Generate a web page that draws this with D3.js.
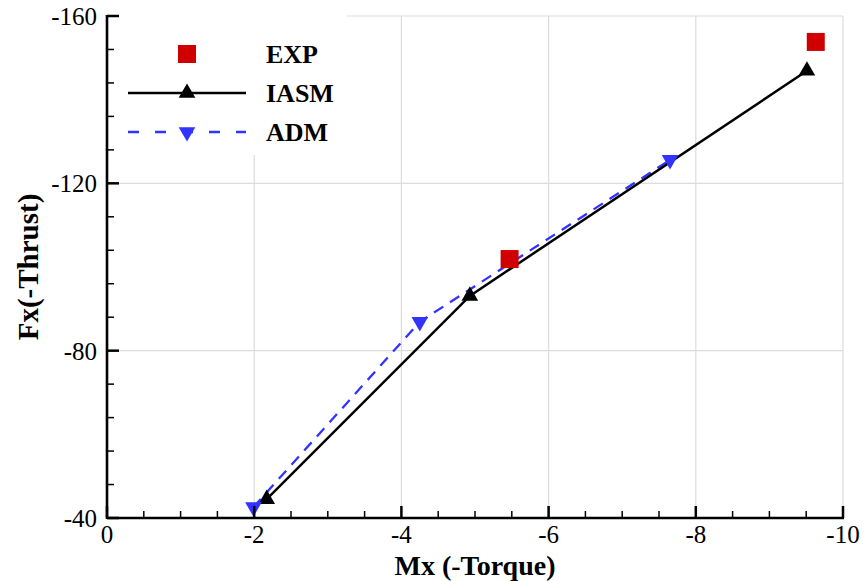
<!DOCTYPE html>
<html><head><meta charset="utf-8">
<script src="https://cdn.jsdelivr.net/npm/d3@7"></script>
<style>
body{margin:0;background:#fff;}
text{font-family:"Liberation Serif","Times New Roman","DejaVu Serif",serif;}
</style></head>
<body><svg id="c" width="864" height="581"></svg>
<script>
const expX = [-5.47, -9.63];
const expY = [-101.9, -153.8];
const iasmX = [-2.17, -4.93, -9.51];
const iasmY = [-44.5, -93.1, -146.9];
const admX = [-1.99, -4.25, -7.65];
const admY = [-42.6, -86.9, -125.6];
const xMajor = [0, -2, -4, -6, -8, -10];
const yMajor = [-40, -80, -120, -160];
const seriesNames = ["EXP", "IASM", "ADM"];

const FONT = "Liberation Serif, Times New Roman, DejaVu Serif, serif";
const svg = d3.select("#c");
const x = d3.scaleLinear().domain([0, -10]).range([107, 843]);
const y = d3.scaleLinear().domain([-40, -160]).range([518, 16]);

// gridlines
const g = svg.append("g");
g.selectAll("line.vx").data(xMajor.slice(1)).enter().append("line")
 .attr("x1", d => x(d)).attr("x2", d => x(d)).attr("y1", y(-40)).attr("y2", y(-160))
 .attr("stroke", "#dcdcdc").attr("stroke-width", 1.2);
g.selectAll("line.hy").data(yMajor.slice(1)).enter().append("line")
 .attr("y1", d => y(d)).attr("y2", d => y(d)).attr("x1", x(0)).attr("x2", x(-10))
 .attr("stroke", "#dcdcdc").attr("stroke-width", 1.2);

// legend background
svg.append("rect").attr("x", x(0)).attr("y", y(-160) - 2).attr("width", 240).attr("height", 141).attr("fill", "#fff");

// lines
const line = d3.line().x(d => x(d[0])).y(d => y(d[1]));
const iasm = iasmX.map((v, i) => [v, iasmY[i]]);
const adm = admX.map((v, i) => [v, admY[i]]);
const exp = expX.map((v, i) => [v, expY[i]]);

svg.append("path").attr("d", line(adm)).attr("fill", "none").attr("stroke", "#3333ff")
 .attr("stroke-width", 2.3).attr("stroke-dasharray", "11,8");
svg.append("path").attr("d", line(iasm)).attr("fill", "none").attr("stroke", "#000")
 .attr("stroke-width", 2.5);

const triUp = d3.symbol().type(d3.symbolTriangle).size(120);
function tri(sel, up, color) {
  sel.append("path").attr("d", triUp()).attr("fill", color)
   .attr("transform", d => `translate(${d[0]},${d[1]}) rotate(${up ? 0 : 180})`);
}
svg.selectAll("path.ia").data(iasm.map(d => [x(d[0]), y(d[1])])).enter().call(s => tri(s, true, "#000"));
svg.selectAll("path.ad").data(adm.map(d => [x(d[0]), y(d[1])])).enter().call(s => tri(s, false, "#3333ff"));
svg.selectAll("rect.ex").data(exp).enter().append("rect")
 .attr("x", d => x(d[0]) - 9).attr("y", d => y(d[1]) - 9).attr("width", 18).attr("height", 18)
 .attr("fill", "#d00000");

// axes
const xMinor = d3.range(0, -10.01, -0.5);
const yMinor = d3.range(-40, -160.01, -8);
const ax = svg.append("g");
ax.selectAll("line.xm").data(xMinor).enter().append("line")
 .attr("x1", d => x(d)).attr("x2", d => x(d)).attr("y1", y(-40)).attr("y2", d => y(-40) - (xMajor.includes(d) ? 12 : 7))
 .attr("stroke", "#000").attr("stroke-width", d => xMajor.includes(d) ? 2.5 : 1.5);
ax.selectAll("line.ym").data(yMinor).enter().append("line")
 .attr("y1", d => y(d)).attr("y2", d => y(d)).attr("x1", x(0)).attr("x2", d => x(0) + (yMajor.includes(d) ? 12 : 7))
 .attr("stroke", "#000").attr("stroke-width", d => yMajor.includes(d) ? 2.5 : 1.5);
ax.append("line").attr("x1", x(0)).attr("x2", x(-10) + 1).attr("y1", y(-40)).attr("y2", y(-40)).attr("stroke", "#000").attr("stroke-width", 2.6);
ax.append("line").attr("x1", x(0)).attr("x2", x(0)).attr("y1", y(-40) + 1).attr("y2", y(-160) - 1).attr("stroke", "#000").attr("stroke-width", 2.6);

ax.selectAll("text.xt").data(xMajor).enter().append("text").attr("font-family", FONT)
 .attr("x", d => x(d)).attr("y", 543).attr("text-anchor", "middle").attr("font-size", 25).text(d => d);
ax.selectAll("text.yt").data(yMajor).enter().append("text").attr("font-family", FONT)
 .attr("x", 97).attr("y", d => y(d) + 9).attr("text-anchor", "end").attr("font-size", 25).text(d => d);

svg.append("text").attr("font-family", FONT).attr("x", 475).attr("y", 575).attr("text-anchor", "middle").attr("font-size", 28)
 .attr("font-weight", "bold").text("Mx (-Torque)");
svg.append("text").attr("font-family", FONT).attr("transform", "translate(38,267) rotate(-90)").attr("text-anchor", "middle")
 .attr("font-size", 29).attr("font-weight", "bold").text("Fx(-Thrust)");

// legend
const lg = svg.append("g");
const ly = [54, 93, 132];
lg.append("rect").attr("x", 178).attr("y", ly[0] - 9).attr("width", 18).attr("height", 18).attr("fill", "#d00000");
lg.append("line").attr("x1", 128).attr("x2", 246).attr("y1", ly[1]).attr("y2", ly[1]).attr("stroke", "#000").attr("stroke-width", 2.5);
lg.append("path").attr("d", triUp()).attr("fill", "#000").attr("transform", `translate(187,${ly[1]})`);
lg.append("line").attr("x1", 128).attr("x2", 246).attr("y1", ly[2]).attr("y2", ly[2]).attr("stroke", "#3333ff").attr("stroke-width", 2.3).attr("stroke-dasharray", "11,16");
lg.append("path").attr("d", triUp()).attr("fill", "#3333ff").attr("transform", `translate(187,${ly[2]}) rotate(180)`);
lg.selectAll("text.lg").data(seriesNames).enter().append("text").attr("font-family", FONT)
 .attr("x", 266).attr("y", (d, i) => ly[i] + 9).attr("font-size", 26).attr("font-weight", "bold").text(d => d);
</script></body></html>
